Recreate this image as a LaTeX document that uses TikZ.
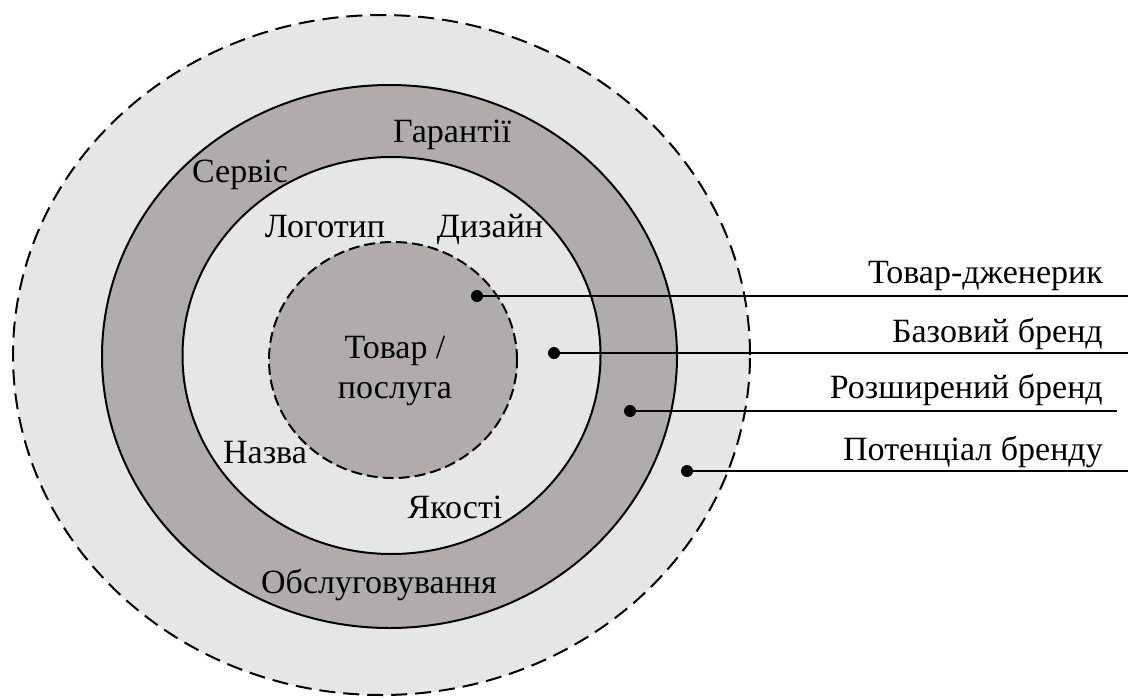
\documentclass[tikz,border=0pt]{standalone}
\usepackage{fontspec}
\setmainfont{Liberation Serif}
\newfontfamily\labelfont{Liberation Serif}
\definecolor{ringdark}{RGB}{176,172,171}
\definecolor{ringlight}{RGB}{230,230,230}
\begin{document}
\begin{tikzpicture}[x=1pt,y=-1pt,
  lbl/.style={font=\labelfont\fontsize{34}{40}\selectfont, inner sep=0pt},
  side/.style={lbl, anchor=base east},
  ring/.style={line width=2pt},
  outerdash/.style={ring, dash pattern=on 16pt off 8pt},
  innerdash/.style={ring, dash pattern=on 11pt off 5pt},
  lead/.style={line width=1.2pt},
  dot/.style={circle, fill=black, inner sep=0pt, minimum size=12pt}]
\useasboundingbox (0,0) rectangle (1128,697);

% concentric levels of the brand
\draw[outerdash, fill=ringlight] (381.5,355) ellipse [x radius=368.5pt, y radius=340pt];
\draw[ring, fill=ringdark] (389.5,356.5) ellipse [x radius=287.5pt, y radius=271.5pt];
\draw[ring, fill=ringlight] (391.5,355.5) ellipse [x radius=209pt, y radius=198.5pt];
\draw[innerdash, fill=ringdark] (393,360) ellipse [x radius=124pt, y radius=118pt];

% labels inside the rings
\node[lbl, anchor=base] (garant) at (452,142) {Гарантії};
\node[lbl, anchor=base] (servis) at (240,182) {Сервіс};
\node[lbl, anchor=base] (logo) at (325,237) {Логотип};
\node[lbl, anchor=base] (dyzain) at (490,237) {Дизайн};
\node[lbl, anchor=base] (tovar) at (395,358) {Товар /};
\node[lbl, anchor=base] (posluha) at (395,398) {послуга};
\node[lbl, anchor=base] (nazva) at (265,463) {Назва};
\node[lbl, anchor=base] (yakosti) at (455,518) {Якості};
\node[lbl, anchor=base] (obsl) at (379,593) {Обслуговування};

% markers on each level
\node[dot] (d1) at (477,296) {};
\node[dot] (d2) at (554,353) {};
\node[dot] (d3) at (630,411) {};
\node[dot] (d4) at (687,471) {};

% leader line ends
\coordinate (e1) at (1128,296);
\coordinate (e2) at (1128,353);
\coordinate (e3) at (1117,411);
\coordinate (e4) at (1128,471);

\draw[lead] (d1.center) -- (e1);
\draw[lead] (d2.center) -- (e2);
\draw[lead] (d3.center) -- (e3);
\draw[lead] (d4.center) -- (e4);

% level names
\node[side] (n1) at (1103,283) {Товар-дженерик};
\node[side] (n2) at (1103,342) {Базовий бренд};
\node[side] (n3) at (1103,398) {Розширений бренд};
\node[side] (n4) at (1103,460) {Потенціал бренду};
\end{tikzpicture}
\end{document}
